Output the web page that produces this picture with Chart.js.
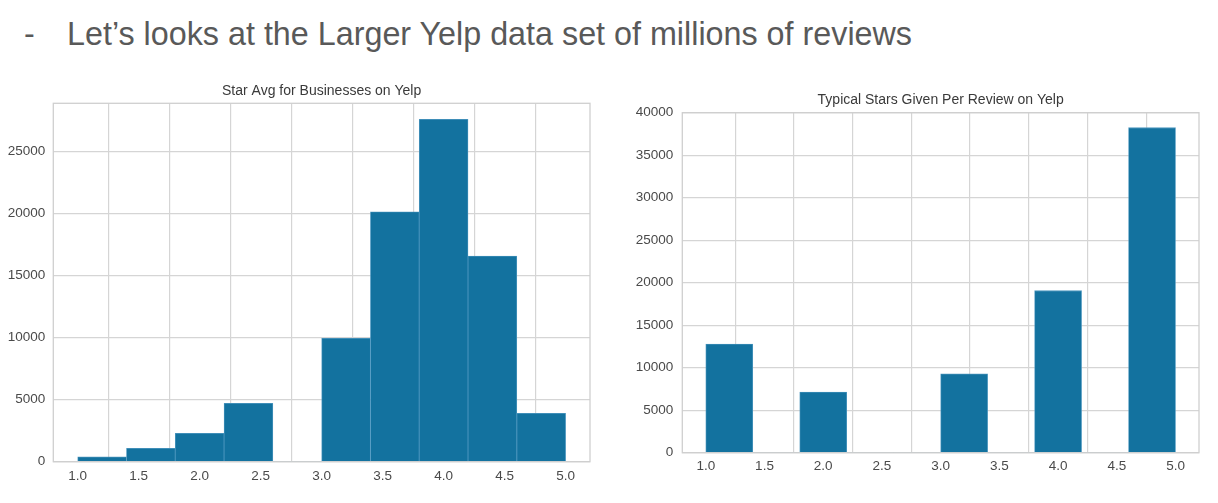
<!DOCTYPE html>
<html>
<head>
<meta charset="utf-8">
<script src="https://cdn.jsdelivr.net/npm/chart.js@4"></script>
<style>
  html, body { margin: 0; padding: 0; background: #ffffff; }
  body { width: 1218px; height: 503px; position: relative; overflow: hidden; font-family: "Liberation Sans", Arial, sans-serif; }
  .dash { position: absolute; left: 24px; top: 17.7px; font-size: 32.3px; line-height: 1; color: #595959; }
  .heading { position: absolute; left: 67px; top: 17.7px; font-size: 32.3px; line-height: 1; color: #595959; white-space: nowrap; }
  .box { position: absolute; }
</style>
</head>
<body>
<div class="dash">-</div>
<div class="heading">Let’s looks at the Larger Yelp data set of millions of reviews</div>
<div class="box" id="leftBox" style="left:0px; top:75px; width:600px; height:410px;"><canvas id="leftChart"></canvas></div>
<div class="box" id="rightBox" style="left:630px; top:80px; width:588px; height:405px;"><canvas id="rightChart"></canvas></div>
<script>
// ---- data ----
const binCenters = [1.2, 1.6, 2.0, 2.4, 2.8, 3.2, 3.6, 4.0, 4.4, 4.8];
const businessCounts = [400, 1080, 2290, 4710, 0, 9950, 20150, 27610, 16590, 3900];
const reviewCounts = [12790, 0, 7140, 0, 0, 9290, 0, 19060, 0, 38240];
const xTickValues = [1.0, 1.5, 2.0, 2.5, 3.0, 3.5, 4.0, 4.5, 5.0];
const leftYTicks = [0, 5000, 10000, 15000, 20000, 25000];
const rightYTicks = [0, 5000, 10000, 15000, 20000, 25000, 30000, 35000, 40000];
const leftTitle = 'Star Avg for Businesses on Yelp';
const rightTitle = 'Typical Stars Given Per Review on Yelp';

const BAR = '#13729f';
const GRID = '#d5d5d5';
const TICK = '#4a4a4a';
const TICK_FONT = '"Liberation Sans Narrow", "Liberation Sans", Arial, sans-serif';

const framePlugin = {
  id: 'frame',
  afterDraw(chart) {
    const a = chart.chartArea, ctx = chart.ctx;
    ctx.save();
    ctx.strokeStyle = '#cfcfcf';
    ctx.lineWidth = 1.3;
    ctx.strokeRect(a.left, a.top, a.right - a.left, a.bottom - a.top);
    // title centred over the plot area
    const t = chart.options.plugins.plotTitle;
    ctx.fillStyle = '#3a3a3a';
    ctx.font = t.size + 'px "Liberation Sans", Arial, sans-serif';
    ctx.textAlign = 'center';
    ctx.textBaseline = 'middle';
    ctx.fillText(t.text, (a.left + a.right) / 2, a.top - t.gap);
    ctx.restore();
  }
};

function makeChart(id, counts, yTicks, ymax, title, cfg) {
  const data = binCenters.map((x, i) => ({ x: x, y: counts[i] }));
  return new Chart(document.getElementById(id), {
    type: 'bar',
    data: {
      datasets: [{
        data: data,
        backgroundColor: BAR,
        borderColor: '#4f98c0',
        borderWidth: (c) => (c.raw && c.raw.y > 0 ? 0.8 : 0),
        barPercentage: 1,
        categoryPercentage: 1
      }]
    },
    options: {
      responsive: true,
      maintainAspectRatio: false,
      animation: false,
      layout: { padding: { left: 0, right: cfg.padRight, top: cfg.padTop, bottom: 0 } },
      plugins: {
        legend: { display: false },
        tooltip: { enabled: false },
        title: { display: false },
        plotTitle: { text: title, size: cfg.titleSize, gap: cfg.titleGap }
      },
      scales: {
        x: {
          type: 'linear',
          min: 0.8,
          max: 5.2,
          offset: false,
          afterBuildTicks: (s) => { s.ticks = xTickValues.map(v => ({ value: v })); },
          afterFit: (s) => { s.height = cfg.xHeight; },
          grid: { color: GRID, lineWidth: 1.2, drawTicks: false },
          border: { display: false },
          ticks: {
            color: TICK,
            padding: cfg.xPad,
            maxRotation: 0,
            font: { family: TICK_FONT, size: cfg.tickSize },
            callback: (v) => Number(v).toFixed(1)
          }
        },
        y: {
          type: 'linear',
          min: 0,
          max: ymax,
          afterBuildTicks: (s) => { s.ticks = yTicks.map(v => ({ value: v })); },
          afterFit: (s) => { s.width = cfg.yWidth; },
          grid: { color: GRID, lineWidth: 1.2, drawTicks: false },
          border: { display: false },
          ticks: {
            color: TICK,
            padding: cfg.yPad,
            font: { family: TICK_FONT, size: cfg.tickSize },
            callback: (v) => String(v)
          }
        }
      }
    },
    plugins: [framePlugin]
  });
}

makeChart('leftChart', businessCounts, leftYTicks, 28900, leftTitle, {
  padRight: 10, padTop: 28.3, titleSize: 14, titleGap: 12.3,
  xHeight: 23.3, yWidth: 53.3, xPad: 6, yPad: 8, tickSize: 13.5
});
makeChart('rightChart', reviewCounts, rightYTicks, 40000, rightTitle, {
  padRight: 19, padTop: 32.7, titleSize: 14, titleGap: 12.7,
  xHeight: 32.3, yWidth: 52.3, xPad: 5, yPad: 9, tickSize: 13.5
});
</script>
</body>
</html>
